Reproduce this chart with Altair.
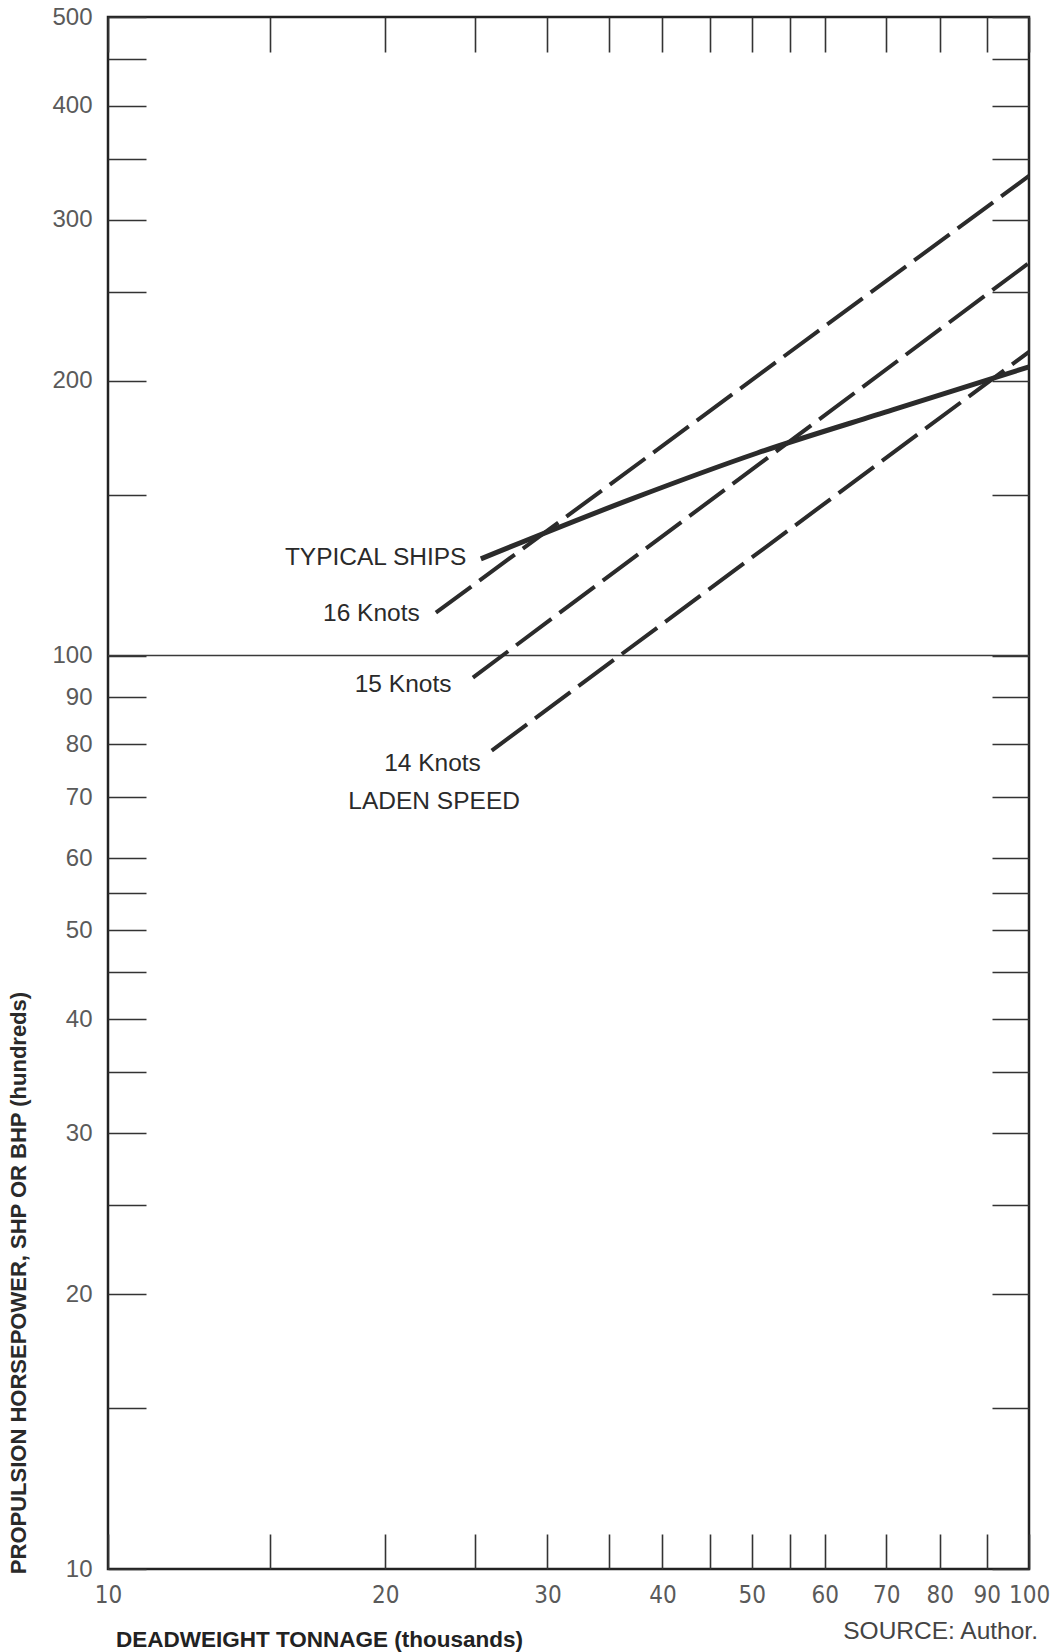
import altair as alt
import pandas as pd

# ---------------- data ----------------
knot_series = ["16 Knots", "15 Knots", "14 Knots"]
knot_x_start = [22.7, 24.9, 26.1]
knot_y_start = [111.4, 94.6, 78.7]
knot_x_end = [100, 100, 100]
knot_y_end = [335, 269, 215]

typical_x = [25.4, 37.1, 50.7, 71.1, 100]
typical_y = [127.6, 148.5, 166.6, 185.7, 207]

label_text = ["TYPICAL SHIPS", "16 Knots", "15 Knots", "14 Knots"]
label_x = [24.5, 21.8, 23.6, 25.4]
label_y = [128.0, 111.1, 92.9, 76.0]
caption_text = ["LADEN SPEED"]
caption_x = [22.6]
caption_y = [69.1]

reference_level = [100]

y_tick_values = [10, 15, 20, 25, 30, 35, 40, 45, 50, 55, 60, 70, 80, 90, 100,
                 150, 200, 250, 300, 350, 400, 450, 500]
y_label_values = [10, 20, 30, 40, 50, 60, 70, 80, 90, 100, 200, 300, 400, 500]
x_tick_values = [10, 15, 20, 25, 30, 35, 40, 45, 50, 55, 60, 70, 80, 90, 100]
x_label_values = [10, 20, 30, 40, 50, 60, 70, 80, 90, 100]

y_title = "PROPULSION HORSEPOWER, SHP OR BHP (hundreds)"
x_title = "DEADWEIGHT TONNAGE (thousands)"
source_text = "SOURCE: Author."

# ---------------- tables ----------------
knots_rows = []
for s, x0, y0, x1, y1 in zip(knot_series, knot_x_start, knot_y_start, knot_x_end, knot_y_end):
    knots_rows.append({"series": s, "x": x0, "y": y0})
    knots_rows.append({"series": s, "x": x1, "y": y1})
knots_df = pd.DataFrame(knots_rows)
typical_df = pd.DataFrame({"x": typical_x, "y": typical_y})
labels_df = pd.DataFrame({"t": label_text, "x": label_x, "y": label_y})
caption_df = pd.DataFrame({"t": caption_text, "x": caption_x, "y": caption_y})
ref_df = pd.DataFrame({"y": reference_level})

W, H = 921, 1552
INK = "#2b2b2b"
SANS = "Liberation Sans, Arial, Helvetica, sans-serif"
NARROW = "Liberation Sans Narrow, DejaVu Sans Condensed, Liberation Sans, sans-serif"

xscale = alt.Scale(type="log", domain=[10, 100], nice=False)
yscale = alt.Scale(type="log", domain=[10, 500], nice=False)

x_lab_expr = f"indexof({x_label_values}, datum.value) >= 0 ? '' + datum.value : ''"
y_lab_expr = f"indexof({y_label_values}, datum.value) >= 0 ? '' + datum.value : ''"

common_tick = dict(domain=False, grid=False, tickColor="#333333", tickWidth=1.6)

x_bottom = alt.Axis(orient="bottom", values=x_tick_values, labelExpr=x_lab_expr,
                    offset=-35, tickSize=35, labelPadding=14, labelFont=NARROW,
                    labelFontSize=24, labelColor="#5a5a5a", labelFlush=False,
                    labelOverlap=False, **common_tick)
y_left = alt.Axis(orient="left", values=y_tick_values, labelExpr=y_lab_expr,
                  offset=-38, tickSize=38, labelPadding=16, labelFont=SANS,
                  labelFontSize=24, labelColor="#5a5a5a", labelFlush=False,
                  labelOverlap=False, **common_tick)
x_top = alt.Axis(orient="top", values=x_tick_values, labels=False,
                 offset=-35, tickSize=35, **common_tick)
y_right = alt.Axis(orient="right", values=y_tick_values, labels=False,
                   offset=-37, tickSize=37, **common_tick)

knots = alt.Chart(knots_df).mark_line(
    color=INK, strokeWidth=4, strokeDash=[44, 10], strokeCap="butt"
).encode(
    x=alt.X("x:Q", scale=xscale, axis=x_bottom, title=None),
    y=alt.Y("y:Q", scale=yscale, axis=y_left, title=None),
    detail="series:N",
)

typical = alt.Chart(typical_df).mark_line(
    color=INK, strokeWidth=5, interpolate="monotone"
).encode(
    x=alt.X("x:Q", scale=xscale, axis=x_top, title=None),
    y=alt.Y("y:Q", scale=yscale, axis=y_right, title=None),
)

ref_rule = alt.Chart(ref_df).mark_rule(color="#3a3a3a", strokeWidth=1.5).encode(
    y=alt.Y("y:Q", scale=yscale, axis=None),
)

labels = alt.Chart(labels_df).mark_text(
    align="right", baseline="middle", font=SANS, fontSize=24.5, color="#2a2a2a"
).encode(
    x=alt.X("x:Q", scale=xscale, axis=None),
    y=alt.Y("y:Q", scale=yscale, axis=None),
    text="t:N",
)

caption = alt.Chart(caption_df).mark_text(
    align="center", baseline="middle", font=SANS, fontSize=24.5, color="#2a2a2a"
).encode(
    x=alt.X("x:Q", scale=xscale, axis=None),
    y=alt.Y("y:Q", scale=yscale, axis=None),
    text="t:N",
)

ytitle = alt.Chart(pd.DataFrame({"t": [y_title]})).mark_text(
    angle=270, align="center", baseline="middle", font=SANS, fontSize=22,
    fontWeight="bold", color="#2a2a2a"
).encode(x=alt.value(-89), y=alt.value(1266), text="t:N")

xtitle = alt.Chart(pd.DataFrame({"t": [x_title]})).mark_text(
    align="left", baseline="middle", font=SANS, fontSize=22.5,
    fontWeight="bold", color="#222222"
).encode(x=alt.value(8), y=alt.value(1623), text="t:N")

source = alt.Chart(pd.DataFrame({"t": [source_text]})).mark_text(
    align="right", baseline="middle", font=SANS, fontSize=24.5, color="#444444"
).encode(x=alt.value(930), y=alt.value(1615), text="t:N")

chart = alt.layer(
    ref_rule, knots, typical, labels, caption, ytitle, xtitle, source
).resolve_axis(
    x="independent", y="independent"
).properties(
    width=W, height=H,
    autosize=alt.AutoSizeParams(type="none"),
    padding={"left": 108, "top": 17, "right": 35, "bottom": 83},
    background="white",
).configure_view(
    stroke="#222222", strokeWidth=2.5
)

chart.save("out.html", embed_options={"renderer": "svg", "actions": False})
